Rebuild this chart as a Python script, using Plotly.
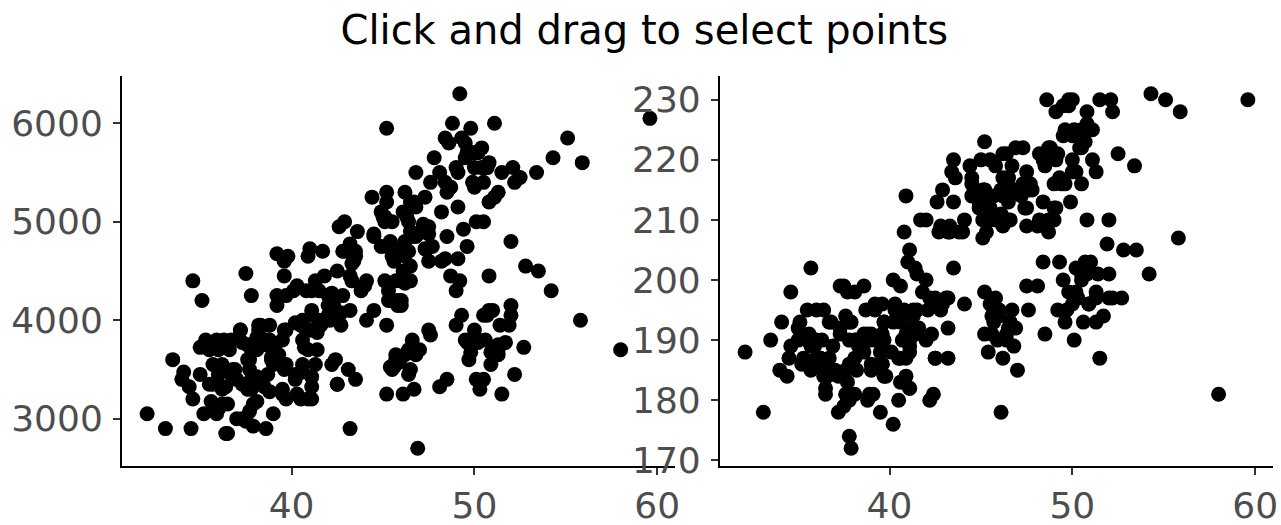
import plotly.graph_objects as go

# Palmer penguins (rows with complete measurements), species order: Adelie, Gentoo, Chinstrap
bill_length = [
    39.1, 39.5, 40.3, 36.7, 39.3, 38.9, 39.2, 34.1, 42.0, 37.8, 37.8, 41.1, 38.6, 34.6, 36.6, 38.7, 42.5, 34.4, 46.0,
    37.8, 37.7, 35.9, 38.2, 38.8, 35.3, 40.6, 40.5, 37.9, 40.5, 39.5, 37.2, 39.5, 40.9, 36.4, 39.2, 38.8, 42.2, 37.6,
    39.8, 36.5, 40.8, 36.0, 44.1, 37.0, 39.6, 41.1, 37.5, 36.0, 42.3, 39.6, 40.1, 35.0, 42.0, 34.5, 41.4, 39.0, 40.6,
    36.5, 37.6, 35.7, 41.3, 37.6, 41.1, 36.4, 41.6, 35.5, 41.1, 35.9, 41.8, 33.5, 39.7, 39.6, 45.8, 35.5, 42.8, 40.9,
    37.2, 36.2, 42.1, 34.6, 42.9, 36.7, 35.1, 37.3, 41.3, 36.3, 36.9, 38.3, 38.9, 35.7, 41.1, 34.0, 39.6, 36.2, 40.8,
    38.1, 40.3, 33.1, 43.2, 35.0, 41.0, 37.7, 37.8, 37.9, 39.7, 38.6, 38.2, 38.1, 43.2, 38.1, 45.6, 39.7, 42.2, 39.6,
    42.7, 38.6, 37.3, 35.7, 41.1, 36.2, 37.7, 40.2, 41.4, 35.2, 40.6, 38.8, 41.5, 39.0, 44.1, 38.5, 43.1, 36.8, 37.5,
    38.1, 41.1, 35.6, 40.2, 37.0, 39.7, 40.2, 40.6, 32.1, 40.7, 37.3, 39.0, 39.2, 36.6, 36.0, 37.8, 36.0, 41.5,
    46.1, 50.0, 48.7, 50.0, 47.6, 46.5, 45.4, 46.7, 43.3, 46.8, 40.9, 49.0, 45.5, 48.4, 45.8, 49.3, 42.0, 49.2, 46.2,
    48.7, 50.2, 45.1, 46.5, 46.3, 42.9, 46.1, 44.5, 47.8, 48.2, 50.0, 47.3, 42.8, 45.1, 59.6, 49.1, 48.4, 42.6, 44.4,
    44.0, 48.7, 42.7, 49.6, 45.3, 49.6, 50.5, 43.6, 45.5, 50.5, 44.9, 45.2, 46.6, 48.5, 45.1, 50.1, 46.5, 45.0, 43.8,
    45.5, 43.2, 50.4, 45.3, 46.2, 45.7, 54.3, 45.8, 49.8, 46.2, 49.5, 43.5, 50.7, 47.7, 46.4, 48.2, 46.5, 46.4, 48.6,
    47.5, 51.1, 45.2, 45.2, 49.1, 52.5, 47.4, 50.0, 44.9, 50.8, 43.4, 51.3, 47.5, 52.1, 47.5, 52.2, 45.5, 49.5, 44.5,
    50.8, 49.4, 46.9, 48.4, 51.1, 48.5, 55.9, 47.2, 49.1, 47.3, 46.8, 41.7, 53.4, 43.3, 48.1, 50.5, 49.8, 43.5, 51.5,
    46.2, 55.1, 44.5, 48.8, 47.2, 46.8, 50.4, 45.2, 49.9,
    46.5, 50.0, 51.3, 45.4, 52.7, 45.2, 46.1, 51.3, 46.0, 51.3, 46.6, 51.7, 47.0, 52.0, 45.9, 50.5, 50.3, 58.0, 46.4,
    49.2, 42.4, 48.5, 43.2, 50.6, 46.7, 52.0, 50.5, 49.5, 46.4, 52.8, 40.9, 54.2, 42.5, 51.0, 49.7, 47.5, 47.6, 52.0,
    46.9, 53.5, 49.0, 46.2, 50.9, 45.5, 50.9, 50.8, 50.1, 49.0, 51.5, 49.8, 48.1, 51.4, 45.7, 50.7, 42.5, 52.2, 45.2,
    49.3, 50.2, 45.6, 51.9, 46.8, 45.7, 55.8, 43.5, 49.6, 50.8, 50.2,
]

body_mass = [
    3750, 3800, 3250, 3450, 3650, 3625, 4675, 3475, 4250, 3300, 3700, 3200, 3800, 4400, 3700, 3450, 4500, 3325, 4200,
    3400, 3600, 3800, 3950, 3800, 3800, 3550, 3200, 3150, 3950, 3250, 3900, 3300, 3900, 3325, 4150, 3950, 3550, 3300,
    4650, 3150, 3900, 3100, 4400, 3000, 4600, 3425, 2975, 3450, 4150, 3500, 4300, 3450, 4050, 2900, 3700, 3550, 3800,
    2850, 3750, 3150, 4400, 3600, 4050, 2850, 3950, 3350, 4100, 3050, 4450, 3600, 3900, 3550, 4150, 3700, 4250, 3700,
    3900, 3550, 4000, 3200, 4700, 3800, 4200, 3350, 3550, 3800, 3500, 3950, 3600, 3550, 4300, 3400, 4450, 3300, 4300,
    3700, 4350, 2900, 4100, 3725, 4725, 3075, 4250, 2925, 3550, 3750, 3900, 3175, 4775, 3825, 4600, 3200, 4275, 3900,
    4075, 2900, 3775, 3350, 3325, 3150, 3500, 3450, 3875, 3050, 4000, 3275, 4300, 3050, 4000, 3325, 3500, 3500, 4475,
    3425, 3900, 3175, 3975, 3400, 4250, 3400, 3475, 3050, 3725, 3000, 3650, 4250, 3475, 3450, 3750, 3700, 4000,
    4500, 5700, 4450, 5700, 5400, 4550, 4800, 5200, 4400, 5150, 4650, 5550, 4650, 5850, 4200, 5850, 4150, 6300, 4800,
    5350, 5700, 5000, 4400, 5050, 5000, 5100, 4100, 5650, 4600, 5550, 5250, 4700, 5050, 6050, 5150, 5400, 4950, 5250,
    4350, 5350, 3950, 5700, 4300, 4750, 5550, 4900, 4200, 5400, 5100, 5300, 4850, 5300, 4400, 5000, 4900, 5050, 4300,
    5000, 4450, 5550, 4200, 5300, 4400, 5650, 4700, 5700, 4650, 5800, 4700, 5550, 4750, 5000, 5100, 5200, 4700, 5800,
    4600, 6000, 4750, 5950, 4625, 5450, 4725, 5350, 4750, 5600, 4600, 5300, 4875, 5550, 4950, 5400, 4750, 5650, 4850,
    5200, 4925, 4875, 4625, 5250, 4850, 5600, 4975, 5500, 4725, 5500, 4700, 5500, 4575, 5500, 5000, 5950, 4650, 5500,
    4375, 5850, 4875, 6000, 4925, 4850, 5750, 5200, 5400,
    3500, 3900, 3650, 3525, 3725, 3950, 3250, 3750, 4150, 3700, 3800, 3775, 3700, 4050, 3575, 4050, 3300, 3700, 3450,
    4400, 3600, 3400, 2900, 3800, 3300, 4150, 3400, 3800, 3700, 4550, 3200, 4300, 3350, 4100, 3600, 3900, 3850, 4800,
    2700, 4500, 3950, 3650, 3550, 3500, 3675, 4450, 3400, 4300, 3250, 3675, 3325, 3950, 3600, 4050, 3350, 3450, 3250,
    4050, 3800, 3525, 3950, 3650, 3650, 4000, 3400, 3775, 4100, 3775,
]

flipper_length = [
    181, 186, 195, 193, 190, 181, 195, 193, 190, 186, 180, 182, 191, 198, 185, 195, 197, 184, 194,
    174, 180, 189, 185, 180, 187, 183, 187, 172, 180, 178, 178, 188, 184, 195, 196, 190, 180, 181,
    184, 182, 195, 186, 196, 185, 190, 182, 179, 190, 191, 186, 188, 190, 200, 187, 191, 186, 193,
    181, 194, 185, 195, 185, 192, 184, 192, 195, 188, 190, 198, 190, 190, 196, 197, 190, 195, 191,
    184, 187, 195, 189, 196, 187, 193, 191, 194, 190, 189, 189, 190, 202, 205, 185, 186, 187, 208,
    190, 196, 178, 192, 192, 203, 183, 190, 193, 184, 199, 190, 181, 197, 198, 191, 193, 197, 191,
    196, 188, 199, 189, 189, 187, 198, 176, 202, 186, 199, 191, 195, 191, 210, 190, 197, 193, 199,
    187, 190, 191, 200, 185, 193, 193, 187, 188, 190, 192, 185, 190, 184, 195, 193, 187, 201,
    211, 230, 210, 218, 215, 210, 211, 219, 209, 215, 214, 216, 214, 213, 210, 217, 210, 221, 209,
    222, 218, 215, 213, 215, 215, 215, 216, 215, 210, 220, 222, 209, 207, 230, 220, 220, 213, 219,
    208, 208, 208, 225, 210, 216, 222, 217, 210, 225, 213, 215, 210, 220, 210, 225, 217, 220, 208,
    220, 208, 224, 208, 221, 214, 231, 219, 230, 214, 229, 220, 223, 216, 221, 221, 217, 216, 230,
    209, 220, 215, 223, 212, 221, 212, 224, 212, 228, 218, 218, 212, 230, 218, 228, 212, 224, 214,
    226, 216, 222, 203, 225, 219, 228, 215, 228, 216, 215, 210, 219, 208, 209, 216, 229, 213, 230,
    217, 230, 217, 222, 214, 215, 222, 212, 213,
    192, 196, 193, 188, 197, 198, 178, 197, 195, 198, 193, 194, 185, 201, 190, 201, 197, 181, 190,
    195, 181, 191, 187, 193, 195, 197, 200, 200, 191, 205, 187, 201, 187, 203, 195, 199, 195, 210,
    192, 205, 210, 187, 196, 196, 196, 201, 190, 212, 187, 198, 199, 201, 193, 203, 187, 197, 191,
    203, 202, 194, 206, 189, 195, 207, 202, 193, 210, 198,
]

title_text = "Click and drag to select points"
x_ticks = [40, 50, 60]
y1_ticks = [3000, 4000, 5000, 6000]
y2_ticks = [170, 180, 190, 200, 210, 220, 230]


def padded(vals, frac=0.05):
    lo, hi = min(vals), max(vals)
    d = (hi - lo) * frac
    return [lo - d, hi + d]


marker = dict(color="black", size=15, line=dict(width=0))

fig = go.Figure()
fig.add_trace(go.Scatter(x=bill_length, y=body_mass, mode="markers", marker=marker,
                         xaxis="x", yaxis="y", showlegend=False))
fig.add_trace(go.Scatter(x=bill_length, y=flipper_length, mode="markers", marker=marker,
                         xaxis="x2", yaxis="y2", showlegend=False))

axis_common = dict(
    showgrid=False, zeroline=False, showline=True, linecolor="black", linewidth=1.9,
    ticks="outside", ticklen=7, tickwidth=1.9, tickcolor="#333333", automargin=False,
    tickfont=dict(family="DejaVu Sans", size=36, color="#4D4D4D"),
)

fig.update_layout(
    width=1281, height=525,
    margin=dict(l=122, r=8, t=76, b=59),
    paper_bgcolor="white", plot_bgcolor="white",
    dragmode="select",
    title=dict(text=title_text, x=0.503, xref="container", xanchor="center",
               y=0.943, yref="container", yanchor="middle",
               font=dict(family="DejaVu Sans", size=40, color="black")),
    xaxis=dict(domain=[0, 0.4805], range=padded(bill_length), tickvals=x_ticks,
               anchor="y", **axis_common),
    yaxis=dict(domain=[0, 1], range=padded(body_mass), tickvals=y1_ticks,
               anchor="x", ticklabelstandoff=3, **axis_common),
    xaxis2=dict(domain=[0.5195, 1], range=padded(bill_length), tickvals=x_ticks,
                anchor="y2", **axis_common),
    yaxis2=dict(domain=[0, 1], range=padded(flipper_length), tickvals=y2_ticks,
                anchor="x2", ticklabelstandoff=3, **axis_common),
)

fig.write_html("out.html", config={"displayModeBar": False},
               post_script="document.body.style.margin='0';document.body.style.overflow='hidden';")
